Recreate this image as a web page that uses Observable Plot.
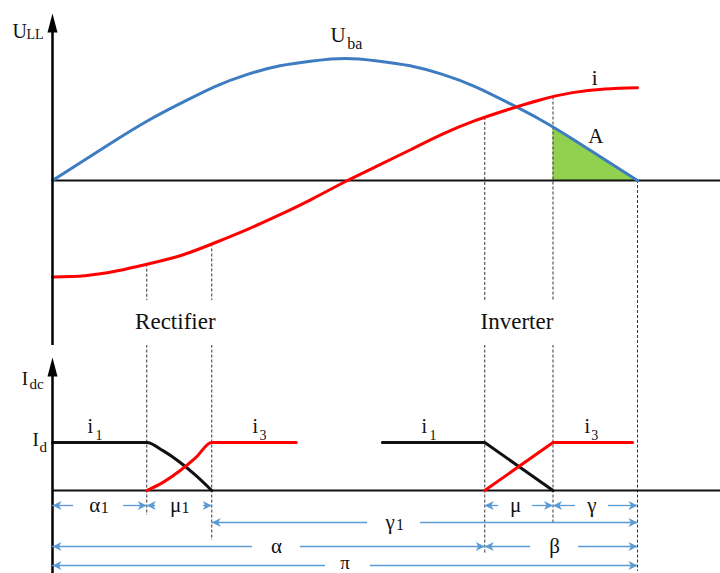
<!DOCTYPE html>
<html>
<head>
<meta charset="utf-8">
<script src="https://cdn.jsdelivr.net/npm/d3@7"></script>
<script src="https://cdn.jsdelivr.net/npm/@observablehq/plot@0.6"></script>
<style>
  body { margin: 0; background: #fff; }
  #chart { width: 720px; }
  #chart svg { display: block; }
  #chart text { font-family: "Liberation Serif", "DejaVu Serif", serif; }
</style>
</head>
<body>
<div id="chart"></div>
<script>
// ---- data -------------------------------------------------------------
// Electrical angle (degrees) over one half-cycle of the line-to-line voltage
const theta = [0, 10, 20, 30, 40, 50, 60, 70, 80, 90, 100, 110, 120, 130, 140, 150, 160, 170, 180];
// Line-to-line voltage U_ba (per unit of its peak)
const uBa = [0, 0.17, 0.34, 0.50, 0.64, 0.77, 0.87, 0.94, 0.98, 1.00, 0.98, 0.94, 0.87, 0.77, 0.64, 0.50, 0.34, 0.17, 0];
// Commutation current i (same per-unit scale)
const iCom = [-0.79, -0.78, -0.74, -0.68, -0.61, -0.51, -0.40, -0.28, -0.15, -0.01, 0.12, 0.25, 0.38, 0.49, 0.58, 0.66, 0.72, 0.75, 0.76];

// Firing and overlap angles (degrees)
const alpha1 = 29, mu1 = 20;   // rectifier
const alpha = 133, mu = 21;    // inverter

// Valve currents during commutation (per unit of I_d)
const rectT  = [0, 29, 34, 39, 44, 49, 75];
const rectI1 = [1, 1, 0.83, 0.60, 0.32, 0, null];
const rectI3 = [null, 0, 0.17, 0.40, 0.68, 1, 1];
const invT   = [101.5, 133, 154, 178.5];
const invI1  = [1, 1, 0, null];
const invI3  = [null, 0, 1, 1];

// Angle dimensions drawn under the current diagram
const dimMain = ["α", "μ", "γ", "μ", "γ", "α", "β", "π"];
const dimSub  = ["1", "1", "1", "", "", "", "", ""];
const dimFrom = [0, alpha1, alpha1 + mu1, alpha, alpha + mu, 0, alpha, 0];
const dimTo   = [alpha1, alpha1 + mu1, 180, alpha + mu, 180, alpha, 180, 180];
const dimRow  = [1, 1, 2, 1, 1, 3, 3, 4];

// ---- layout -----------------------------------------------------------
const degPerPx = 180 / 585;
const X = {domain: [0, 180], range: [52, 637]};
const xRight = (720 - 52) * degPerPx;
const serif = "Liberation Serif, DejaVu Serif, serif";
const black = "#111";
const blue = "#3e7cc2";
const red = "#ff0000";
const green = "#92d050";
const dimBlue = "#5b9bd5";
const guide = "#333";

// label centre (deg) and half gap (px) for each dimension
const dimAt   = [14.2, 39.1, 105.1, 142.5, 166, 68.9, 154.5, 90.9];
const dimHalf = [25, 24, 26.5, 17, 16.5, 24, 24, 22.5];
const rowY = {1: -0.3125, 2: -0.667, 3: -1.167, 4: -1.5625};

// linear lookup into a sampled series
function at(xs, ys, x) {
  let i = d3.bisectRight(xs, x) - 1;
  i = Math.max(0, Math.min(xs.length - 2, i));
  const f = (x - xs[i]) / (xs[i + 1] - xs[i]);
  return ys[i] + f * (ys[i + 1] - ys[i]);
}

// filled axis arrowhead, tip at the anchor point
const axisHead = {draw(ctx) { ctx.moveTo(0, 0); ctx.lineTo(5, 19); ctx.lineTo(-5, 19); ctx.closePath(); }};
// barbed dimension arrowhead pointing up, tip at the anchor point
const barb = {draw(ctx, size) {
  const r = Math.sqrt(size / Math.PI);
  ctx.moveTo(0, 0); ctx.lineTo(r * 0.5, r); ctx.lineTo(0, r * 0.72); ctx.lineTo(-r * 0.5, r); ctx.closePath();
}};

function label(s, x, y, o = {}) {
  return Plot.text([s], {x: [x], y: [y], text: d => d, fontFamily: serif, lineAnchor: "bottom",
    textAnchor: "start", fill: "#111", fontSize: 20, ...o});
}

// ---- upper diagram: voltage and commutation current ------------------
const series = theta.map((t, k) => ({t, u: uBa[k], i: iCom[k]}));
const areaStart = alpha + mu;
const areaA = [{t: areaStart, u: at(theta, uBa, areaStart)}]
  .concat(series.filter(d => d.t > areaStart).map(d => ({t: d.t, u: d.u})));

const commAngles = [alpha1, alpha1 + mu1, alpha, alpha + mu];
const topGuides = commAngles.map(t => ({t, y1: at(theta, iCom, t), y2: -0.984}))
  .concat([{t: 180, y1: 0, y2: -1.36}]);

const upperPlot = Plot.plot({
  width: 720, height: 345,
  margin: 0,
  x: {...X, axis: null},
  y: {domain: [-1.352, 1.475], range: [345, 0], axis: null},
  style: {fontFamily: serif, background: "#fff"},
  marks: [
    Plot.areaY(areaA, {x: "t", y: "u", fill: green, curve: "natural"}),
    Plot.ruleY([0], {x1: 0, x2: xRight, stroke: black, strokeWidth: 2}),
    Plot.ruleX(topGuides, {x: "t", y1: "y1", y2: "y2", stroke: guide, strokeWidth: 1, strokeDasharray: "3,2"}),
    Plot.line(series, {x: "t", y: "u", stroke: blue, strokeWidth: 3, curve: "natural"}),
    Plot.line(series, {x: "t", y: "i", stroke: red, strokeWidth: 3, curve: "natural"}),
    Plot.ruleX([0], {y1: -1.36, y2: 1.25, stroke: "#000", strokeWidth: 2.5}),
    Plot.dot([0], {x: [0], y: [1.369], symbol: axisHead, r: 5, fill: "#000", stroke: "none"}),
    label("U", -12.3, 1.164, {fontSize: 20}),
    label("LL", -8.0, 1.156, {fontSize: 14}),
    label("U", 85.5, 1.131, {fontSize: 21}),
    label("ba", 90.7, 1.074, {fontSize: 16}),
    label("i", 166.8, 0.779, {fontSize: 21, textAnchor: "middle"}),
    label("A", 167.2, 0.311, {fontSize: 21, textAnchor: "middle"}),
    label("Rectifier", 37.8, -1.213, {fontSize: 23, textAnchor: "middle"}),
    label("Inverter", 142.9, -1.213, {fontSize: 23, textAnchor: "middle"})
  ]
});

// ---- lower diagram: valve currents and angle dimensions --------------
const rect1 = rectT.map((t, k) => ({t, v: rectI1[k]})).filter(d => d.v !== null);
const rect3 = rectT.map((t, k) => ({t, v: rectI3[k]})).filter(d => d.v !== null);
const inv1 = invT.map((t, k) => ({t, v: invI1[k]})).filter(d => d.v !== null);
const inv3 = invT.map((t, k) => ({t, v: invI3[k]})).filter(d => d.v !== null);

const guideEnds = [-0.521, -1.042, -1.313, -0.667, -1.6875];
const bottomGuides = commAngles.concat([180]).map((t, k) => ({t, y1: 3.03, y2: guideEnds[k]}));

const dims = dimMain.map((m, k) => ({
  main: m, sub: dimSub[k], from: dimFrom[k], to: dimTo[k],
  at: dimAt[k], half: dimHalf[k] * degPerPx, y: rowY[dimRow[k]]
}));
const shafts = dims.flatMap(d => [
  {x1: d.from, x2: d.at - d.half, y: d.y},
  {x1: d.at + d.half, x2: d.to, y: d.y}
]);
const heads = dims.flatMap(d => [
  {x: d.from, y: d.y, r: -90},
  {x: d.to, y: d.y, r: 90}
]);

const lowerPlot = Plot.plot({
  width: 720, height: 228,
  margin: 0,
  x: {...X, axis: null},
  y: {domain: [-1.729, 3.0208], range: [228, 0], axis: null},
  style: {fontFamily: serif, background: "#fff"},
  marks: [
    Plot.ruleX(bottomGuides, {x: "t", y1: "y1", y2: "y2", stroke: guide, strokeWidth: 1, strokeDasharray: "3,2"}),
    Plot.ruleY([0], {x1: 0, x2: xRight, stroke: black, strokeWidth: 2}),
    Plot.line(rect1, {x: "t", y: "v", stroke: black, strokeWidth: 3, curve: "monotone-x"}),
    Plot.line(rect3, {x: "t", y: "v", stroke: red, strokeWidth: 3, curve: "monotone-x"}),
    Plot.line(inv1, {x: "t", y: "v", stroke: black, strokeWidth: 3}),
    Plot.line(inv3, {x: "t", y: "v", stroke: red, strokeWidth: 3}),
    Plot.ruleX([0], {y1: -1.75, y2: 2.5, stroke: "#000", strokeWidth: 2.5}),
    Plot.dot([0], {x: [0], y: [2.771], symbol: axisHead, r: 5, fill: "#000", stroke: "none"}),
    Plot.ruleY(shafts, {y: "y", x1: "x1", x2: "x2", stroke: dimBlue, strokeWidth: 1.3}),
    Plot.dot(heads, {x: "x", y: "y", rotate: "r", symbol: barb, r: 9, fill: dimBlue, stroke: "none"}),
    Plot.text(dims.filter(d => d.sub), {x: "at", y: "y", text: "main", dx: -4, fontSize: 21, fontFamily: serif, fill: "#111"}),
    Plot.text(dims.filter(d => d.sub), {x: "at", y: "y", text: "sub", dx: 6, dy: 2, fontSize: 16, fontFamily: serif, fill: "#111"}),
    Plot.text(dims.filter(d => !d.sub && d.main !== "π"), {x: "at", y: "y", text: "main", fontSize: 21, fontFamily: serif, fill: "#111"}),
    Plot.text(dims.filter(d => d.main === "π"), {x: "at", y: "y", text: "main", dx: -3, dy: -3, fontSize: 19, fontFamily: serif, fill: "#111"}),
    label("I", -9.5, 2.208, {fontSize: 19}),
    label("dc", -7.1, 2.125, {fontSize: 15}),
    label("I", -6.15, 0.9375, {fontSize: 19}),
    label("d", -4.0, 0.8125, {fontSize: 15}),
    label("i", 10.77, 1.208),
    label("1", 13.23, 1.0625, {fontSize: 14}),
    label("i", 61.5, 1.208),
    label("3", 63.7, 1.0625, {fontSize: 14}),
    label("i", 113.5, 1.208),
    label("1", 116.0, 1.0625, {fontSize: 14}),
    label("i", 163.7, 1.208),
    label("3", 165.8, 1.0625, {fontSize: 14})
  ]
});

document.getElementById("chart").append(upperPlot, lowerPlot);
</script>
</body>
</html>
